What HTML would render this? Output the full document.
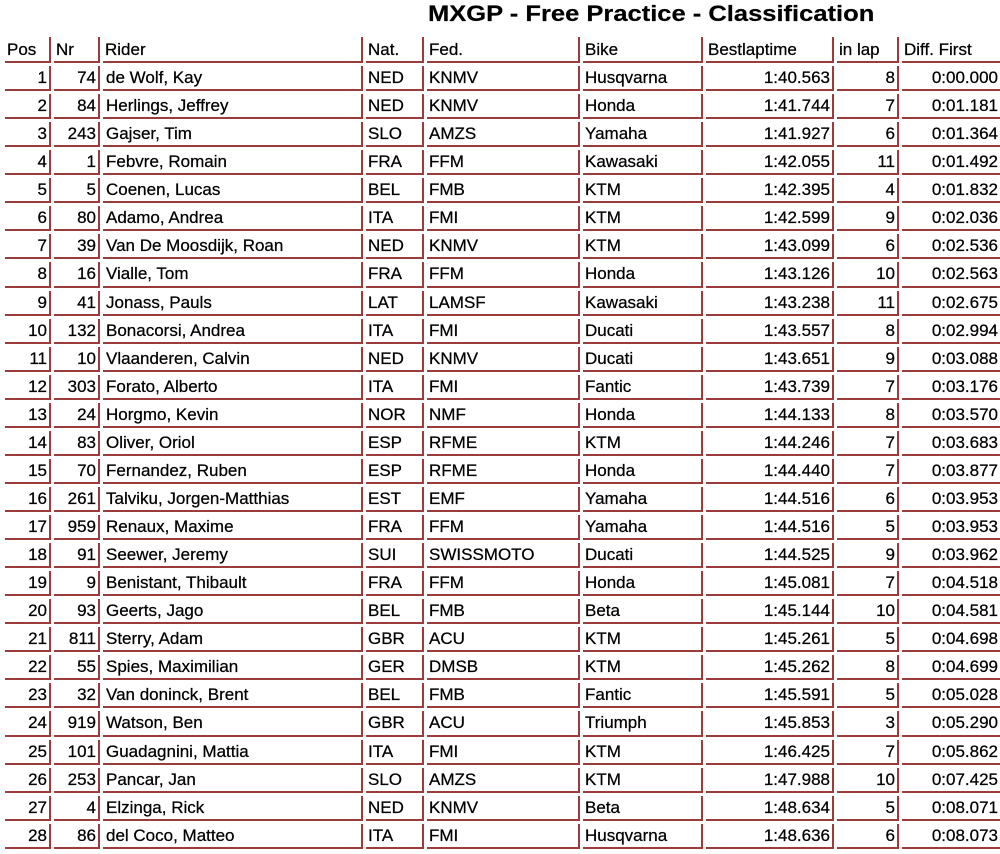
<!DOCTYPE html>
<html>
<head>
<meta charset="utf-8">
<style>
  html, body { margin:0; padding:0; background:#fff; }
  body { width:1000px; height:854px; overflow:hidden; position:relative; font-family:"Liberation Sans", Arial, sans-serif; color:#000; }
  .title { position:absolute; left:428px; top:3px; font-size:22px; line-height:22px; font-weight:bold; white-space:nowrap; transform:scaleX(1.16); transform-origin:0 0; -webkit-text-stroke:0.2px #000; }
  table { position:absolute; left:2px; top:34px; border-collapse:separate; border-spacing:3px; table-layout:fixed; width:1003px; font-size:17px; -webkit-text-stroke:0.25px #000; }
  td, th { box-sizing:border-box; padding:0 2px 0 2px; border-right:2px solid #9b3b3b; border-bottom:2px solid #9b3b3b; height:25.07px; vertical-align:middle; white-space:nowrap; overflow:hidden; font-weight:normal; text-align:left; line-height:19px; }
  th { height:26px; }
  td.r { text-align:right; }
  td.l { padding-left:3px; }
  th { padding-left:2px; }
</style>
</head>
<body>
<div class="title">MXGP - Free Practice - Classification</div>
<table>
<tr>
<th style="width:46px">Pos</th>
<th style="width:46px">Nr</th>
<th style="width:260px">Rider</th>
<th style="width:58px">Nat.</th>
<th style="width:153px">Fed.</th>
<th style="width:120px">Bike</th>
<th style="width:128px">Bestlaptime</th>
<th style="width:62px">in lap</th>
<th style="width:100px">Diff. First</th>
</tr>
<tr><td class="r">1</td><td class="r">74</td><td class="l">de Wolf, Kay</td><td>NED</td><td>KNMV</td><td>Husqvarna</td><td class="r">1:40.563</td><td class="r">8</td><td class="r">0:00.000</td></tr>
<tr><td class="r">2</td><td class="r">84</td><td class="l">Herlings, Jeffrey</td><td>NED</td><td>KNMV</td><td>Honda</td><td class="r">1:41.744</td><td class="r">7</td><td class="r">0:01.181</td></tr>
<tr><td class="r">3</td><td class="r">243</td><td class="l">Gajser, Tim</td><td>SLO</td><td>AMZS</td><td>Yamaha</td><td class="r">1:41.927</td><td class="r">6</td><td class="r">0:01.364</td></tr>
<tr><td class="r">4</td><td class="r">1</td><td class="l">Febvre, Romain</td><td>FRA</td><td>FFM</td><td>Kawasaki</td><td class="r">1:42.055</td><td class="r">11</td><td class="r">0:01.492</td></tr>
<tr><td class="r">5</td><td class="r">5</td><td class="l">Coenen, Lucas</td><td>BEL</td><td>FMB</td><td>KTM</td><td class="r">1:42.395</td><td class="r">4</td><td class="r">0:01.832</td></tr>
<tr><td class="r">6</td><td class="r">80</td><td class="l">Adamo, Andrea</td><td>ITA</td><td>FMI</td><td>KTM</td><td class="r">1:42.599</td><td class="r">9</td><td class="r">0:02.036</td></tr>
<tr><td class="r">7</td><td class="r">39</td><td class="l">Van De Moosdijk, Roan</td><td>NED</td><td>KNMV</td><td>KTM</td><td class="r">1:43.099</td><td class="r">6</td><td class="r">0:02.536</td></tr>
<tr><td class="r">8</td><td class="r">16</td><td class="l">Vialle, Tom</td><td>FRA</td><td>FFM</td><td>Honda</td><td class="r">1:43.126</td><td class="r">10</td><td class="r">0:02.563</td></tr>
<tr><td class="r">9</td><td class="r">41</td><td class="l">Jonass, Pauls</td><td>LAT</td><td>LAMSF</td><td>Kawasaki</td><td class="r">1:43.238</td><td class="r">11</td><td class="r">0:02.675</td></tr>
<tr><td class="r">10</td><td class="r">132</td><td class="l">Bonacorsi, Andrea</td><td>ITA</td><td>FMI</td><td>Ducati</td><td class="r">1:43.557</td><td class="r">8</td><td class="r">0:02.994</td></tr>
<tr><td class="r">11</td><td class="r">10</td><td class="l">Vlaanderen, Calvin</td><td>NED</td><td>KNMV</td><td>Ducati</td><td class="r">1:43.651</td><td class="r">9</td><td class="r">0:03.088</td></tr>
<tr><td class="r">12</td><td class="r">303</td><td class="l">Forato, Alberto</td><td>ITA</td><td>FMI</td><td>Fantic</td><td class="r">1:43.739</td><td class="r">7</td><td class="r">0:03.176</td></tr>
<tr><td class="r">13</td><td class="r">24</td><td class="l">Horgmo, Kevin</td><td>NOR</td><td>NMF</td><td>Honda</td><td class="r">1:44.133</td><td class="r">8</td><td class="r">0:03.570</td></tr>
<tr><td class="r">14</td><td class="r">83</td><td class="l">Oliver, Oriol</td><td>ESP</td><td>RFME</td><td>KTM</td><td class="r">1:44.246</td><td class="r">7</td><td class="r">0:03.683</td></tr>
<tr><td class="r">15</td><td class="r">70</td><td class="l">Fernandez, Ruben</td><td>ESP</td><td>RFME</td><td>Honda</td><td class="r">1:44.440</td><td class="r">7</td><td class="r">0:03.877</td></tr>
<tr><td class="r">16</td><td class="r">261</td><td class="l">Talviku, Jorgen-Matthias</td><td>EST</td><td>EMF</td><td>Yamaha</td><td class="r">1:44.516</td><td class="r">6</td><td class="r">0:03.953</td></tr>
<tr><td class="r">17</td><td class="r">959</td><td class="l">Renaux, Maxime</td><td>FRA</td><td>FFM</td><td>Yamaha</td><td class="r">1:44.516</td><td class="r">5</td><td class="r">0:03.953</td></tr>
<tr><td class="r">18</td><td class="r">91</td><td class="l">Seewer, Jeremy</td><td>SUI</td><td>SWISSMOTO</td><td>Ducati</td><td class="r">1:44.525</td><td class="r">9</td><td class="r">0:03.962</td></tr>
<tr><td class="r">19</td><td class="r">9</td><td class="l">Benistant, Thibault</td><td>FRA</td><td>FFM</td><td>Honda</td><td class="r">1:45.081</td><td class="r">7</td><td class="r">0:04.518</td></tr>
<tr><td class="r">20</td><td class="r">93</td><td class="l">Geerts, Jago</td><td>BEL</td><td>FMB</td><td>Beta</td><td class="r">1:45.144</td><td class="r">10</td><td class="r">0:04.581</td></tr>
<tr><td class="r">21</td><td class="r">811</td><td class="l">Sterry, Adam</td><td>GBR</td><td>ACU</td><td>KTM</td><td class="r">1:45.261</td><td class="r">5</td><td class="r">0:04.698</td></tr>
<tr><td class="r">22</td><td class="r">55</td><td class="l">Spies, Maximilian</td><td>GER</td><td>DMSB</td><td>KTM</td><td class="r">1:45.262</td><td class="r">8</td><td class="r">0:04.699</td></tr>
<tr><td class="r">23</td><td class="r">32</td><td class="l">Van doninck, Brent</td><td>BEL</td><td>FMB</td><td>Fantic</td><td class="r">1:45.591</td><td class="r">5</td><td class="r">0:05.028</td></tr>
<tr><td class="r">24</td><td class="r">919</td><td class="l">Watson, Ben</td><td>GBR</td><td>ACU</td><td>Triumph</td><td class="r">1:45.853</td><td class="r">3</td><td class="r">0:05.290</td></tr>
<tr><td class="r">25</td><td class="r">101</td><td class="l">Guadagnini, Mattia</td><td>ITA</td><td>FMI</td><td>KTM</td><td class="r">1:46.425</td><td class="r">7</td><td class="r">0:05.862</td></tr>
<tr><td class="r">26</td><td class="r">253</td><td class="l">Pancar, Jan</td><td>SLO</td><td>AMZS</td><td>KTM</td><td class="r">1:47.988</td><td class="r">10</td><td class="r">0:07.425</td></tr>
<tr><td class="r">27</td><td class="r">4</td><td class="l">Elzinga, Rick</td><td>NED</td><td>KNMV</td><td>Beta</td><td class="r">1:48.634</td><td class="r">5</td><td class="r">0:08.071</td></tr>
<tr><td class="r">28</td><td class="r">86</td><td class="l">del Coco, Matteo</td><td>ITA</td><td>FMI</td><td>Husqvarna</td><td class="r">1:48.636</td><td class="r">6</td><td class="r">0:08.073</td></tr>
</table>
</body>
</html>
